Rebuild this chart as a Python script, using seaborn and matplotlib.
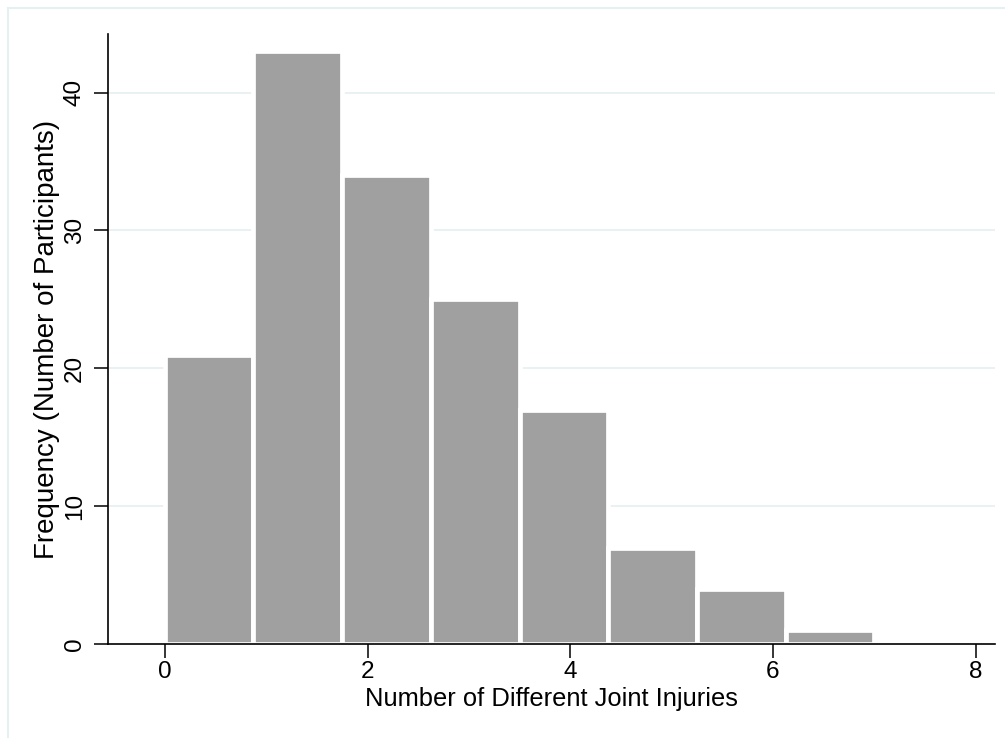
import numpy as np
import pandas as pd
import matplotlib
matplotlib.use("Agg")
import matplotlib.pyplot as plt
from matplotlib.lines import Line2D
import seaborn as sns

# Number of distinct joints injured per participant (binned counts)
bin_edges = [0, 0.875, 1.75, 2.625, 3.5, 4.375, 5.25, 6.125, 7.0]
bin_counts = [21, 43, 34, 25, 17, 7, 4, 1]
x_ticks = [0, 2, 4, 6, 8]
y_ticks = [0, 10, 20, 30, 40]

bin_centers = [(a + b) / 2 for a, b in zip(bin_edges[:-1], bin_edges[1:])]
df = pd.DataFrame({"injuries": bin_centers, "count": bin_counts})

sns.set_theme(style="white")
plt.rcParams["font.family"] = ["Liberation Sans", "DejaVu Sans"]

fig = plt.figure(figsize=(10.05, 7.38), dpi=100)
W, H = 1005, 738
ax = fig.add_axes([108 / W, 1 - 644 / H, (995 - 108) / W, (644 - 34) / H])

grid_col = "#e9f1f3"
for yv in y_ticks[1:]:
    ax.axhline(yv, color=grid_col, lw=1.4, zorder=0)

sns.histplot(data=df, x="injuries", weights="count", bins=bin_edges, ax=ax,
             color="#a0a0a0", alpha=1.0, edgecolor="white", linewidth=3.4,
             zorder=2)
for p in ax.patches:
    p.set_zorder(2)

ax.set_xlim(-0.56, 8.19)
ax.set_ylim(0, 44.25)
ax.set_xticks(x_ticks)
ax.set_yticks(y_ticks)
ax.set_xticklabels([str(v) for v in x_ticks], fontsize=17.5)
ax.set_yticklabels([str(v) for v in y_ticks], fontsize=17.5, rotation=90,
                   va="center")

for side in ["top", "right"]:
    ax.spines[side].set_visible(False)
for side in ["left", "bottom"]:
    ax.spines[side].set_color("black")
    ax.spines[side].set_linewidth(1.2)
    ax.spines[side].set_zorder(3)

ax.tick_params(axis="x", which="major", direction="out", length=10,
               width=1.1, color="black", bottom=True, pad=2,
               labelcolor="black")
ax.tick_params(axis="y", which="major", direction="out", length=10,
               width=1.1, color="black", left=True, pad=6,
               labelcolor="black")

ax.set_xlabel("Number of Different Joint Injuries", fontsize=18.4,
              color="black", labelpad=3)
ax.set_ylabel("Frequency (Number of Participants)", fontsize=20,
              color="black", labelpad=3)

# Outer graph-region outline (top and left edges)
border_col = "#e6eff1"
fig.add_artist(Line2D([8 / W, 1.0], [1 - 8 / H, 1 - 8 / H],
                      transform=fig.transFigure, color=border_col, lw=1.5))
fig.add_artist(Line2D([8 / W, 8 / W], [0.0, 1 - 8 / H],
                      transform=fig.transFigure, color=border_col, lw=1.5))

fig.savefig("out.png", dpi=100, facecolor="white")
